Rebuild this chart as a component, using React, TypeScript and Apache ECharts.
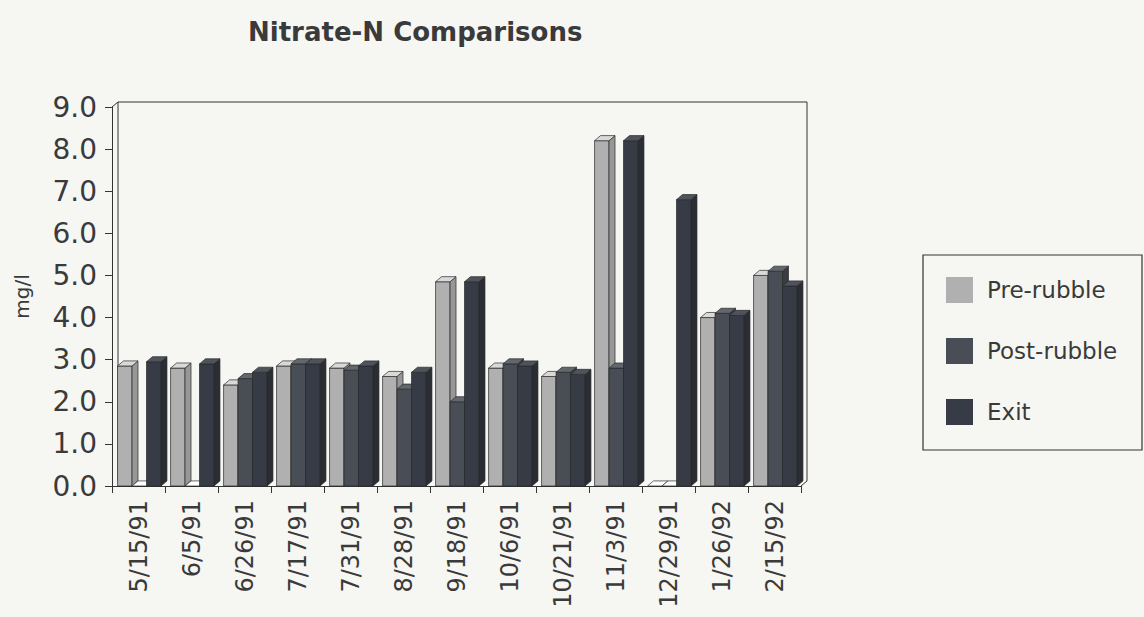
import React, { useEffect, useRef } from "react";
import * as echarts from "echarts";

const categories = ["5/15/91", "6/5/91", "6/26/91", "7/17/91", "7/31/91", "8/28/91", "9/18/91", "10/6/91", "10/21/91", "11/3/91", "12/29/91", "1/26/92", "2/15/92"];
const preRubble = [2.85, 2.8, 2.4, 2.85, 2.8, 2.6, 4.85, 2.8, 2.6, 8.2, 0, 4.0, 5.0];
const postRubble = [0, 0, 2.55, 2.9, 2.75, 2.3, 2.0, 2.9, 2.7, 2.8, 0, 4.1, 5.1];
const exitValues = [2.95, 2.9, 2.7, 2.9, 2.85, 2.7, 4.85, 2.85, 2.65, 8.2, 6.8, 4.05, 4.75];
const seriesNames = ["Pre-rubble", "Post-rubble", "Exit"];

const FONT = "DejaVu Sans, Verdana, sans-serif";
const TXT = "#3a3a3a";
const BG = "#f6f6f3";

const palettes = [
  { front: "#b0b0b0", top: "#d9d9d9", side: "#979797" },
  { front: "#494e56", top: "#62666d", side: "#383c43" },
  { front: "#373b45", top: "#4f535b", side: "#2a2d34" },
];

const makeRender = (k: number) => (params: any, api: any) => {
  const idx = api.value(0);
  const v = api.value(1);
  const base = api.coord([idx, 0]);
  const top = api.coord([idx, v]);
  const band = api.size([1, 0])[0];
  const bw = band * 0.273;
  const d = band * 0.113;
  const h = d * 0.85;
  const x0 = base[0] - band * 0.395 + k * bw;
  const x1 = x0 + bw;
  const yb = base[1];
  const yt = top[1];
  const p = palettes[k];
  const stroke = { stroke: "#2a2a2a", lineWidth: 0.7 };
  const children: any[] = [];
  if (v > 0) {
    children.push({
      type: "polygon",
      shape: { points: [[x0, yb], [x1, yb], [x1, yt], [x0, yt]] },
      style: { fill: p.front, ...stroke },
    });
    children.push({
      type: "polygon",
      shape: { points: [[x1, yb], [x1 + d, yb - h], [x1 + d, yt - h], [x1, yt]] },
      style: { fill: p.side, ...stroke },
    });
  }
  children.push({
    type: "polygon",
    shape: { points: [[x0, yt], [x1, yt], [x1 + d, yt - h], [x0 + d, yt - h]] },
    style: { fill: v > 0 ? p.top : "#ffffff", ...stroke },
  });
  return { type: "group", children };
};

export default function App() {
  const ref = useRef<HTMLDivElement>(null);
  useEffect(() => {
    if (!ref.current) return;
    const chart = echarts.init(ref.current, undefined, { renderer: "svg" });
    const L = 112, T = 107, R = 801, B = 486, D = 6, H = 5;
    const datasets = [preRubble, postRubble, exitValues];
    chart.setOption({
      animation: false,
      backgroundColor: BG,
      title: {
        text: "Nitrate-N Comparisons",
        left: 243,
        top: 14,
        textStyle: { fontFamily: FONT, fontSize: 26, fontWeight: "bold", color: TXT },
      },
      grid: { left: L, top: T, right: 1144 - R, bottom: 617 - B, containLabel: false },
      legend: {
        orient: "vertical",
        left: 946,
        top: 277,
        itemWidth: 27,
        itemHeight: 26,
        itemGap: 35,
        padding: 0,
        icon: "rect",
        data: seriesNames,
        selectedMode: false,
        textStyle: { fontFamily: FONT, fontSize: 23, color: TXT, padding: [0, 0, 0, 9] },
      },
      xAxis: {
        type: "category",
        data: categories,
        boundaryGap: true,
        axisLine: { show: true, lineStyle: { color: "#333", width: 1 } },
        axisTick: { show: true, length: 7, lineStyle: { color: "#333" } },
        axisLabel: { rotate: 90, margin: 14, fontFamily: FONT, fontSize: 24, color: TXT, interval: 0 },
      },
      yAxis: {
        type: "value",
        min: 0,
        max: 9,
        interval: 1,
        name: "mg/l",
        nameLocation: "middle",
        nameGap: 80,
        nameRotate: 90,
        nameTextStyle: { fontFamily: FONT, fontSize: 20, color: TXT },
        axisLine: { show: true, lineStyle: { color: "#333", width: 1 } },
        axisTick: { show: true, length: 7, lineStyle: { color: "#333" } },
        splitLine: { show: false },
        axisLabel: {
          margin: 15,
          fontFamily: FONT,
          fontSize: 28,
          color: TXT,
          formatter: (v: number) => v.toFixed(1),
        },
      },
      graphic: [
        {
          type: "polyline",
          z: 0,
          shape: { points: [[L, T], [L + D, T - H], [R + D, T - H], [R + D, B - H], [R, B]] },
          style: { stroke: "#333", lineWidth: 1, fill: "none" },
        },
        {
          type: "line",
          z: 0,
          shape: { x1: L + D, y1: T - H, x2: L + D, y2: B - H },
          style: { stroke: "#333", lineWidth: 1 },
        },
        {
          type: "rect",
          z: 0,
          shape: { x: 923, y: 255, width: 219, height: 195 },
          style: { stroke: "#333", lineWidth: 1.2, fill: "none" },
        },
      ],
      series: datasets.map((vals, k) => ({
        type: "custom",
        name: seriesNames[k],
        renderItem: makeRender(k),
        itemStyle: { color: palettes[k].front },
        encode: { x: 0, y: 1 },
        data: vals.map((v, i) => [i, v]),
        z: 3,
      })),
    });
    return () => chart.dispose();
  }, []);
  return (
    <div
      ref={ref}
      style={{ width: 1144, height: 617, position: "absolute", left: 0, top: 0 }}
    />
  );
}
